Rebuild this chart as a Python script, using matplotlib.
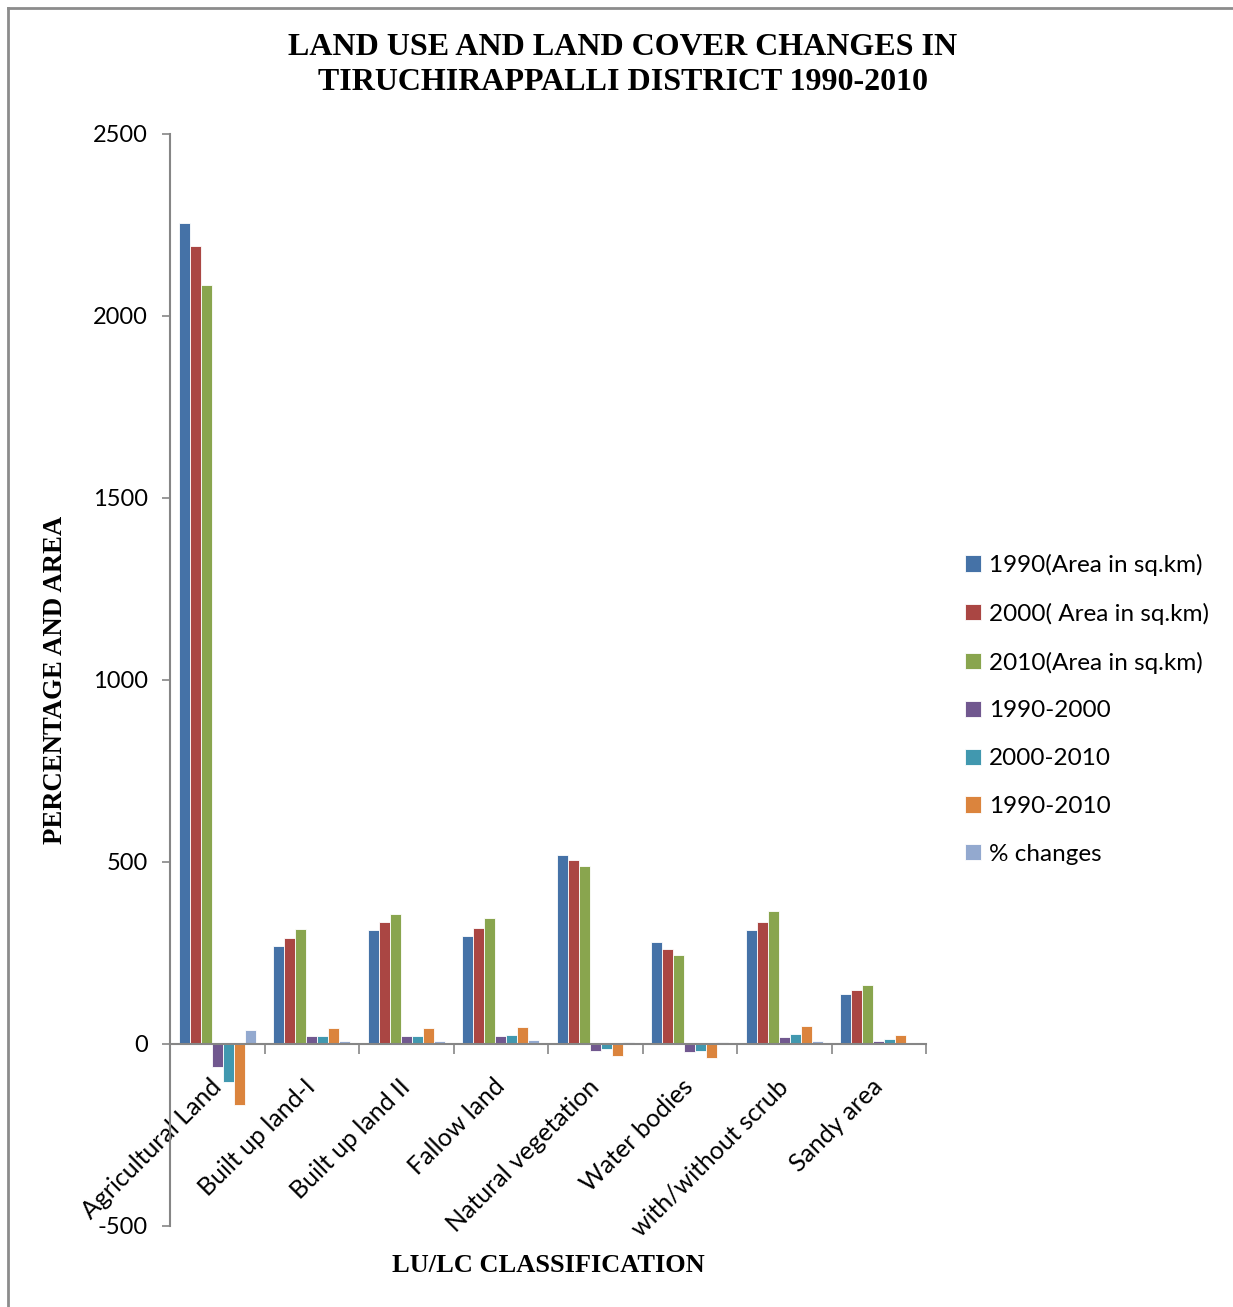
import numpy as np
import matplotlib
matplotlib.use('Agg')
import matplotlib.pyplot as plt
from matplotlib.lines import Line2D

# 数据
categories = ['Agricultural Land', 'Built up land-I', 'Built up land II', 'Fallow land',
              'Natural vegetation', 'Water bodies', 'with/without scrub', 'Sandy area']
area_1990 = [2255, 269, 314, 297, 520, 281, 314, 136]
area_2000 = [2192, 290, 336, 320, 505, 262, 336, 149]
area_2010 = [2085, 315, 358, 345, 490, 244, 365, 163]
chg_1990_2000 = [-62, 23, 22, 23, -18, -21, 19, 9]
chg_2000_2010 = [-104, 23, 21, 24, -15, -18, 27, 13]
chg_1990_2010 = [-168, 45, 43, 48, -32, -38, 49, 25]
pct_changes = [38, 9, 7, 10, 6, 6, 9, 4]

series_names = ['1990(Area in sq.km)', '2000( Area in sq.km)', '2010(Area in sq.km)',
                '1990-2000', '2000-2010', '1990-2010', '% changes']
colors = ['#4572A7', '#AA4643', '#89A54E', '#71588F', '#4198AF', '#DB843D', '#93A9CF']
series = [area_1990, area_2000, area_2010, chg_1990_2000, chg_2000_2010, chg_1990_2010, pct_changes]

plt.rcParams['axes.unicode_minus'] = False

W, H = 1233, 1307
fig = plt.figure(figsize=(W / 100, H / 100), dpi=100)
ax = fig.add_axes([170 / W, 1 - 1226 / H, 756 / W, 1092 / H])

x = np.arange(len(categories)) + 0.5
bw = 0.1164
for j, (vals, name, col) in enumerate(zip(series, series_names, colors)):
    ax.bar(x + (j - 3) * bw, vals, width=bw, color=col, edgecolor='white',
           linewidth=0.6, label=name, zorder=2)

ax.set_xlim(0, len(categories))
ax.set_ylim(-500, 2500)
ax.set_yticks(range(-500, 2501, 500))

axis_col = '#868686'
for s in ['top', 'right']:
    ax.spines[s].set_visible(False)
ax.spines['bottom'].set_position(('data', 0))
ax.spines['bottom'].set_color(axis_col)
ax.spines['left'].set_color(axis_col)
ax.spines['bottom'].set_linewidth(1.5)
ax.spines['left'].set_linewidth(1.5)

font = 'Lato'
ax.tick_params(axis='y', direction='out', length=6, width=1.2, color=axis_col,
               labelsize=17, pad=10)
for lab in ax.get_yticklabels():
    lab.set_family(font)

# x 轴：主刻度在分组边界，标签放在次刻度
ax.set_xticks(np.arange(0, len(categories) + 1))
ax.set_xticklabels([])
ax.tick_params(axis='x', which='major', direction='out', length=7, width=1.2, color=axis_col)
ax.set_xticks(x, minor=True)
ax.set_xticklabels(categories, minor=True, rotation=45, ha='right', va='center',
                   rotation_mode='anchor', fontsize=18, family=font)
ax.tick_params(axis='x', which='minor', length=0, pad=28)

# 标题与坐标轴标题
fig.text(623 / W, 1 - 65 / H, 'LAND USE AND LAND COVER CHANGES IN\nTIRUCHIRAPPALLI DISTRICT 1990-2010',
         ha='center', va='center', fontsize=23, fontweight='bold', family='Liberation Serif',
         linespacing=1.3)
fig.text(55 / W, 1 - 680 / H, 'PERCENTAGE AND AREA', rotation=90, ha='center', va='center',
         fontsize=19.3, fontweight='bold', family='Liberation Serif')
fig.text(548 / W, 1 - 1265 / H, 'LU/LC CLASSIFICATION', ha='center', va='center',
         fontsize=19, fontweight='bold', family='Liberation Serif')

fig.legend(loc='upper left', bbox_to_anchor=(965 / W, 1 - 554 / H), frameon=False,
           prop={'family': font, 'size': 17.5}, handlelength=0.65, handleheight=0.65,
           handletextpad=0.35, labelspacing=1.1, borderpad=0, borderaxespad=0)

# 外框（左、上）
fig.add_artist(Line2D([8 / W, 8 / W], [0, 1 - 8 / H], transform=fig.transFigure,
                      color='#8c8c8c', lw=2))
fig.add_artist(Line2D([8 / W, 1], [1 - 8 / H, 1 - 8 / H], transform=fig.transFigure,
                      color='#8c8c8c', lw=2))

fig.savefig('out.png', dpi=100)
